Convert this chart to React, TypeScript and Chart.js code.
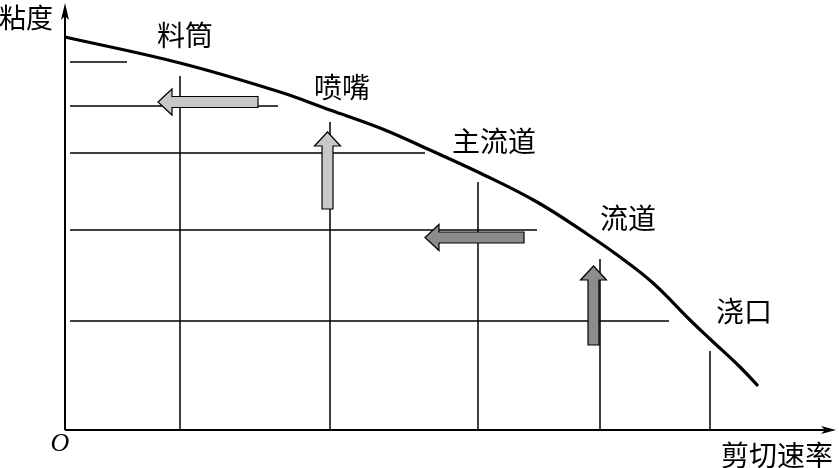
import React, { useEffect, useRef } from "react";
import { Chart, registerables } from "chart.js";
Chart.register(...registerables);

// Shear rate (x) / viscosity (y), schematic units
const curveX = [0, 1.15, 2.15, 2.65, 3.15, 3.65, 4.15, 4.72, 5.22, 5.55, 5.88, 6.25, 6.45, 6.75, 6.93];
const curveY = [3.93, 3.67, 3.38, 3.2, 3.02, 2.8, 2.57, 2.28, 1.96, 1.73, 1.47, 1.1, 0.91, 0.63, 0.44];

const hLineY = [3.68, 3.24, 2.77, 2.0, 1.09];
const hLineStart = [0.05, 0.05, 0.05, 0.05, 0.05];
const hLineEnd = [0.62, 2.13, 3.6, 4.72, 6.04];

const vLineX = [1.15, 2.65, 4.13, 5.35, 6.45];
const vLineTop = [3.54, 3.08, 2.48, 1.71, 0.79];

const arrowTailX = [1.93, 2.625, 4.59, 5.285];
const arrowTailY = [3.28, 2.21, 1.925, 0.85];
const arrowTipX = [0.93, 2.625, 3.6, 5.285];
const arrowTipY = [3.28, 2.98, 1.925, 1.64];
const arrowColors = ["#c8c8c8", "#c8c8c8", "#8c8c8c", "#8c8c8c"];

const stageLabels = ["料筒", "喷嘴", "主流道", "流道", "浇口"];
const stageLabelX = [1.2, 2.77, 4.29, 5.63, 6.79];
const stageLabelY = [3.95, 3.43, 2.89, 2.12, 1.19];

const yAxisTitle = "粘度";
const xAxisTitle = "剪切速率";
const originLabel = "O";

const X_MAX = 7.7;
const Y_MAX = 4.25;

const CJK = '"Noto Sans CJK SC", sans-serif';

const drawPlugin = {
  id: "schematic",
  afterDatasetsDraw(chart: any) {
    const ctx = chart.ctx;
    const xs = chart.scales.x;
    const ys = chart.scales.y;
    const ox = xs.getPixelForValue(0);
    const oy = ys.getPixelForValue(0);
    const xe = xs.getPixelForValue(X_MAX);
    const ye = ys.getPixelForValue(Y_MAX);
    ctx.save();
    ctx.strokeStyle = "#000";
    ctx.fillStyle = "#000";
    ctx.lineWidth = 2;
    ctx.beginPath();
    ctx.moveTo(ox, oy);
    ctx.lineTo(xe - 4, oy);
    ctx.moveTo(ox, oy);
    ctx.lineTo(ox, ye + 4);
    ctx.stroke();
    ctx.beginPath();
    ctx.moveTo(xe + 1, oy);
    ctx.lineTo(xe - 14, oy - 4);
    ctx.lineTo(xe - 10, oy);
    ctx.lineTo(xe - 14, oy + 4);
    ctx.closePath();
    ctx.fill();
    ctx.beginPath();
    ctx.moveTo(ox, ye - 2);
    ctx.lineTo(ox - 4, ye + 15);
    ctx.lineTo(ox, ye + 11);
    ctx.lineTo(ox + 4, ye + 15);
    ctx.closePath();
    ctx.fill();

    for (let i = 0; i < arrowTailX.length; i++) {
      const tx = xs.getPixelForValue(arrowTailX[i]);
      const ty = ys.getPixelForValue(arrowTailY[i]);
      const px = xs.getPixelForValue(arrowTipX[i]);
      const py = ys.getPixelForValue(arrowTipY[i]);
      const L = Math.hypot(px - tx, py - ty);
      const dx = (px - tx) / L;
      const dy = (py - ty) / L;
      const nx = -dy;
      const ny = dx;
      const bw = 5.5;
      const hw = 13;
      const hl = 14;
      const bx = px - dx * hl;
      const by = py - dy * hl;
      ctx.beginPath();
      ctx.moveTo(tx + nx * bw, ty + ny * bw);
      ctx.lineTo(bx + nx * bw, by + ny * bw);
      ctx.lineTo(bx + nx * hw, by + ny * hw);
      ctx.lineTo(px, py);
      ctx.lineTo(bx - nx * hw, by - ny * hw);
      ctx.lineTo(bx - nx * bw, by - ny * bw);
      ctx.lineTo(tx - nx * bw, ty - ny * bw);
      ctx.closePath();
      ctx.fillStyle = arrowColors[i];
      ctx.fill();
      ctx.lineWidth = 1.2;
      ctx.strokeStyle = "#000";
      ctx.stroke();
    }
    ctx.restore();
  },
  afterDraw(chart: any) {
    const ctx = chart.ctx;
    const xs = chart.scales.x;
    const ys = chart.scales.y;
    ctx.save();
    ctx.fillStyle = "#000";
    ctx.textAlign = "center";
    ctx.textBaseline = "middle";
    ctx.font = `28px ${CJK}`;
    for (let i = 0; i < stageLabels.length; i++) {
      ctx.fillText(
        stageLabels[i],
        xs.getPixelForValue(stageLabelX[i]),
        ys.getPixelForValue(stageLabelY[i])
      );
    }
    const ox = xs.getPixelForValue(0);
    const oy = ys.getPixelForValue(0);
    ctx.font = `27px ${CJK}`;
    ctx.fillText(yAxisTitle, ox - 39, ys.getPixelForValue(Y_MAX) + 13);
    ctx.font = `28px ${CJK}`;
    ctx.fillText(xAxisTitle, xs.getPixelForValue(X_MAX) - 58, oy + 25);
    ctx.font = 'italic 26px "Liberation Serif", serif';
    ctx.fillText(originLabel, ox - 5, oy + 14);
    ctx.restore();
  },
};

export default function App() {
  const ref = useRef<HTMLCanvasElement | null>(null);
  useEffect(() => {
    if (!ref.current) return;
    const datasets: any[] = [];
    datasets.push({
      data: curveX.map((x, i) => ({ x, y: curveY[i] })),
      borderColor: "#000",
      borderWidth: 3.2,
      pointRadius: 0,
      tension: 0.4,
      fill: false,
    });
    hLineY.forEach((y, i) => {
      datasets.push({
        data: [
          { x: hLineStart[i], y },
          { x: hLineEnd[i], y },
        ],
        borderColor: "#000",
        borderWidth: 1.5,
        pointRadius: 0,
        fill: false,
      });
    });
    vLineX.forEach((x, i) => {
      datasets.push({
        data: [
          { x, y: 0 },
          { x, y: vLineTop[i] },
        ],
        borderColor: "#000",
        borderWidth: 1.5,
        pointRadius: 0,
        fill: false,
      });
    });
    const chart = new Chart(ref.current, {
      type: "line",
      data: { datasets },
      options: {
        responsive: false,
        animation: false,
        layout: { padding: { left: 65, right: 4, top: 5, bottom: 38 } },
        plugins: {
          legend: { display: false },
          tooltip: { enabled: false },
        },
        scales: {
          x: { type: "linear", min: 0, max: X_MAX, display: false },
          y: { type: "linear", min: 0, max: Y_MAX, display: false },
        },
        clip: false as any,
      },
      plugins: [drawPlugin],
    } as any);
    return () => chart.destroy();
  }, []);
  return (
    <div style={{ position: "fixed", left: 0, top: 0, width: 839, height: 468, background: "#fff" }}>
      <canvas ref={ref} width={839} height={468} />
    </div>
  );
}
